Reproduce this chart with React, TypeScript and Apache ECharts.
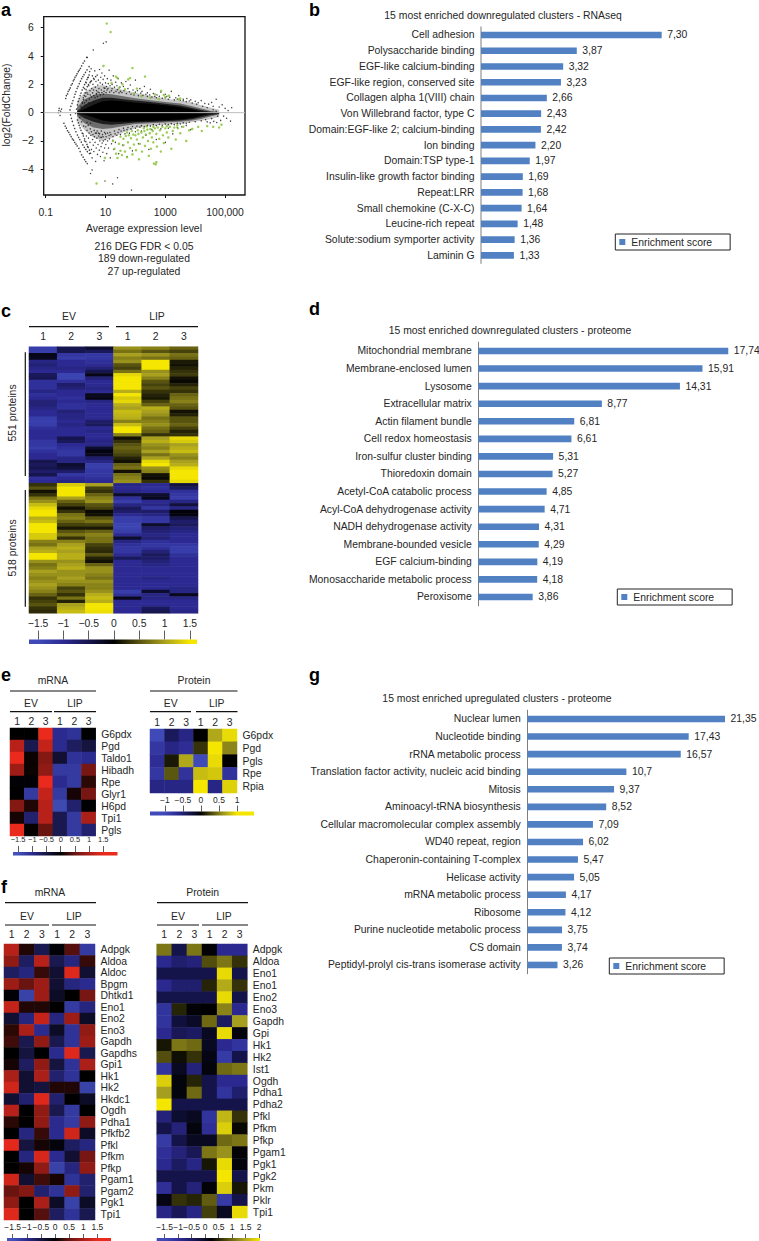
import React, { useEffect, useRef } from "react";
import * as echarts from "echarts";

const FONT = '"Liberation Sans", Arial, sans-serif';
const INK = "#262626";
const BAR = "#5181c2";
const TEXT = 10.4;

// ---------- panel a (x is log10 of the average expression level) ----------
const maTicksX = [-1, 1, 3, 5];
const maTickLabels = ["0.1", "10", "1000", "100,000"];
const maTicksY = [-4, -2, 0, 2, 4, 6];
// lg, coreHi, coreLo, innerHi, innerLo, midHi, midLo, outerHi, outerLo
const maEnvelope = [
  [0.05, 0.05, -0.05, 0.1, -0.1, 0.4, -0.25, 0.8, -0.6],
  [0.3, 0.25, -0.15, 0.55, -0.4, 0.95, -0.75, 1.45, -1.25],
  [0.6, 0.55, -0.35, 0.85, -0.65, 1.25, -1.05, 1.85, -1.75],
  [0.9, 0.8, -0.55, 1.05, -0.8, 1.35, -1.15, 1.95, -2.0],
  [1.2, 0.85, -0.65, 1.05, -0.85, 1.3, -1.1, 1.8, -1.8],
  [1.6, 0.8, -0.65, 0.95, -0.78, 1.15, -0.95, 1.6, -1.4],
  [2.0, 0.7, -0.62, 0.85, -0.7, 1.02, -0.8, 1.4, -1.1],
  [2.5, 0.62, -0.58, 0.75, -0.66, 0.88, -0.75, 1.2, -0.95],
  [3.0, 0.52, -0.54, 0.62, -0.61, 0.75, -0.7, 1.0, -0.85],
  [3.5, 0.38, -0.48, 0.5, -0.56, 0.65, -0.65, 0.85, -0.8],
  [3.9, 0.22, -0.38, 0.32, -0.46, 0.45, -0.55, 0.72, -0.68],
  [4.2, 0.08, -0.22, 0.18, -0.32, 0.3, -0.45, 0.52, -0.58],
  [4.5, 0.0, -0.08, 0.06, -0.18, 0.14, -0.28, 0.36, -0.46],
  [4.8, -0.03, -0.05, 0.0, -0.08, 0.04, -0.14, 0.2, -0.3],
];
const maStreakDots = [
  [-0.33, 1.0], [-0.31, 1.2], [-0.27, 1.32], [-0.25, 1.5], [-0.21, 1.62], [-0.18, 1.75], [-0.15, 1.95], [-0.11, 2.05], [-0.08, 2.25], [-0.05, 2.35], [-0.02, 2.5], [0.02, 2.62], [0.05, 2.75], [0.09, 2.9], [0.12, 3.0], [0.16, 3.13], [0.2, 3.3], [0.25, 3.5], [0.3, 3.65], [0.37, 3.91],
  [-0.19, 0.19], [-0.16, 0.45], [-0.12, 0.65], [-0.09, 0.85], [-0.05, 1.1], [-0.02, 1.3], [0.01, 1.48], [0.05, 1.72], [0.08, 1.85], [0.12, 2.05], [0.16, 2.22], [0.2, 2.4], [0.24, 2.55], [0.28, 2.68], [0.33, 2.85], [0.38, 3.02], [0.45, 3.25],
  [0.0, -0.05], [0.03, 0.25], [0.06, 0.55], [0.09, 0.8], [0.12, 1.0], [0.15, 1.2], [0.18, 1.38], [0.22, 1.6], [0.26, 1.78], [0.3, 1.98], [0.34, 2.15], [0.38, 2.35], [0.41, 2.48], [0.45, 2.66],
  [0.17, 0.0], [0.2, 0.35], [0.23, 0.65], [0.26, 0.92], [0.29, 1.2], [0.32, 1.4], [0.35, 1.62], [0.39, 1.84], [0.43, 1.98], [0.48, 2.12], [0.53, 2.25], [0.6, 2.42], [0.67, 2.54],
  [-0.39, -0.75], [-0.35, -0.95], [-0.31, -1.1], [-0.27, -1.28], [-0.23, -1.4], [-0.19, -1.55], [-0.15, -1.7], [-0.11, -1.85], [-0.07, -1.95], [-0.03, -2.1], [0.01, -2.22], [0.05, -2.35], [0.11, -2.52], [0.15, -2.75], [0.2, -2.98], [0.25, -3.15], [0.3, -3.32], [0.34, -3.46],
  [-0.17, -0.16], [-0.14, -0.4], [-0.11, -0.62], [-0.07, -0.9], [-0.03, -1.12], [0.01, -1.35], [0.06, -1.58], [0.1, -1.75], [0.14, -1.9], [0.19, -2.08], [0.24, -2.28], [0.29, -2.45], [0.34, -2.6], [0.39, -2.76],
  [0.06, -0.52], [0.09, -0.72], [0.12, -0.9], [0.15, -1.08], [0.18, -1.25], [0.22, -1.45], [0.26, -1.65], [0.3, -1.85], [0.34, -2.05], [0.38, -2.25], [0.42, -2.45], [0.46, -2.65], [0.5, -2.87],
];
const maBlack = [
  [-0.55, 0.3], [-0.5, 0.1], [-0.58, 0], [-0.52, -0.2], [-0.47, 0.25], [-0.56, 0.15],
  [0.39, 3.9], [0.59, 4.43], [0.93, 4.9], [1.02, 5.0], [0.5, -4.3], [0.55, -4.05], [0.39, -3.6], [1.24, -5.04], [1.4, -4.6], [1.87, -5.47], [0.98, -4.83],
  [0.3, 1.7], [0.35, 2.1], [0.38, 1.4], [0.42, 2.5], [0.44, 1.9], [0.47, 2.9], [0.48, 1.55], [0.5, 2.2], [0.52, 3.1], [0.54, 1.7], [0.56, 2.6], [0.58, 2.0],
  [0.6, 1.6], [0.62, 2.35], [0.64, 2.95], [0.66, 1.8], [0.68, 2.2], [0.7, 1.55], [0.72, 2.65], [0.74, 1.95], [0.76, 2.3], [0.78, 1.7], [0.8, 3.05], [0.82, 2.1],
  [0.84, 2.5], [0.86, 1.6], [0.88, 2.8], [0.9, 2.0], [0.92, 2.35], [0.95, 1.75], [0.97, 2.6], [1.0, 2.1], [1.03, 1.85], [1.06, 2.4], [1.09, 2.05], [1.12, 3.0],
  [1.15, 1.9], [1.18, 2.3], [1.22, 2.0], [1.26, 2.6], [1.3, 1.8], [1.34, 2.15], [1.38, 1.9], [1.42, 2.4], [1.48, 1.8], [1.53, 2.1], [1.6, 1.85], [1.68, 2.2], [1.75, 1.7], [1.83, 1.95],
  [1.92, 1.6], [2.0, 2.3], [2.07, 1.55], [2.15, 1.7], [2.22, 1.5], [2.3, 1.85], [2.4, 1.4], [2.5, 1.65], [2.6, 1.35], [2.72, 1.25], [2.85, 1.45], [3.0, 1.3], [3.05, 1.15], [3.2, 1.5], [3.35, 1.05], [3.45, 1.2], [3.6, 0.95], [3.72, 1.0],
  [3.85, 0.9], [4.0, 0.8], [4.1, 0.7], [4.2, 0.85], [4.32, 0.65], [4.45, 0.6], [4.55, 0.72], [4.6, 0.45], [4.7, 0.95], [4.8, 0.4], [4.9, 0.55], [5.0, 0.3], [5.1, 0.15], [5.22, 0.35], [4.95, -0.25], [5.05, -0.4], [5.18, -0.6], [4.85, -0.55], [4.72, -0.7], [4.62, -0.62], [4.5, -0.72], [4.4, -0.65],
  [0.25, -1.5], [0.3, -2.0], [0.36, -1.65], [0.4, -2.4], [0.43, -1.8], [0.46, -2.9], [0.48, -2.1], [0.51, -1.6], [0.53, -2.6], [0.55, -3.2], [0.57, -1.9], [0.59, -2.3],
  [0.61, -2.75], [0.63, -1.7], [0.65, -2.1], [0.67, -3.45], [0.69, -2.5], [0.71, -1.8], [0.73, -2.95], [0.75, -2.25], [0.77, -1.65], [0.79, -2.65], [0.81, -2.0], [0.83, -3.1],
  [0.85, -2.4], [0.87, -1.75], [0.89, -2.15], [0.91, -2.8], [0.93, -2.0], [0.95, -3.4], [0.97, -2.5], [0.99, -1.9], [1.01, -2.25], [1.04, -2.9], [1.07, -2.0], [1.1, -2.5],
  [1.13, -1.85], [1.16, -3.2], [1.2, -2.2], [1.24, -1.95], [1.28, -2.6], [1.33, -2.1], [1.38, -1.6], [1.44, -2.9], [1.5, -1.55], [1.57, -2.3], [1.65, -1.5], [1.72, -3.1], [1.8, -1.45], [1.9, -2.7], [2.0, -1.35], [2.1, -2.2], [2.2, -1.3], [2.35, -1.6], [2.45, -2.6], [2.55, -1.2], [2.7, -1.9], [2.85, -1.15], [3.0, -2.1], [3.1, -1.1], [3.25, -1.5], [3.4, -1.05], [3.55, -1.0], [3.7, -0.9], [3.85, -1.2],
  [0.7, 1.35], [0.75, 1.45], [0.95, 1.5], [1.05, 1.6], [1.2, 1.55], [1.35, 1.5], [1.45, 1.4], [1.55, 1.42], [1.7, 1.35], [1.85, 1.3], [1.95, 1.25], [2.1, 1.2], [2.25, 1.22], [2.4, 1.15], [2.55, 1.1], [2.7, 1.05], [2.9, 1.02], [3.1, 0.95], [3.3, 0.9], [3.5, 0.88], [3.7, 0.78], [3.9, 0.68], [4.05, 0.6], [4.25, 0.45], [4.4, 0.35], [4.6, 0.2], [4.7, 0.1],
  [0.7, -1.45], [0.8, -1.5], [0.9, -1.55], [1.0, -1.5], [1.15, -1.4], [1.3, -1.3], [1.45, -1.2], [1.6, -1.1], [1.75, -1.05], [1.9, -0.98], [2.05, -0.95], [2.2, -0.92], [2.4, -0.9], [2.6, -0.85], [2.8, -0.82], [3.0, -0.8], [3.2, -0.78], [3.4, -0.76], [3.6, -0.72], [3.8, -0.68], [4.0, -0.64], [4.2, -0.58], [4.35, -0.5], [4.55, -0.42], [4.75, -0.25],
  [0.34, 1.15], [0.41, 1.3], [0.46, 0.95], [0.49, 1.25], [0.53, 1.1], [0.57, 1.4], [0.61, 1.2], [0.65, 1.05], [0.69, 1.3], [0.73, 1.15], [0.79, 1.4], [0.83, 1.25], [0.88, 1.42], [0.93, 1.3], [0.98, 1.72], [1.02, 1.42], [1.08, 1.7], [1.14, 1.45], [1.22, 1.7], [1.28, 1.42], [1.4, 1.62], [1.5, 1.5], [1.62, 1.55], [1.8, 1.48], [2.0, 1.45], [2.18, 1.38], [2.35, 1.3], [2.48, 1.25], [2.65, 1.15], [2.8, 1.15], [3.0, 1.05], [3.15, 1.08], [3.4, 0.95], [3.6, 0.85], [3.8, 0.82],
  [0.34, -1.0], [0.38, -1.25], [0.42, -0.9], [0.45, -1.45], [0.49, -1.15], [0.53, -1.35], [0.58, -1.55], [0.62, -1.25], [0.66, -1.45], [0.72, -1.3], [0.77, -1.45], [0.82, -1.75], [0.86, -1.3], [0.92, -1.7], [0.97, -1.4], [1.02, -1.7], [1.07, -1.45], [1.12, -1.62], [1.18, -1.55], [1.25, -1.7], [1.32, -1.5], [1.42, -1.4], [1.52, -1.3], [1.62, -1.25], [1.72, -1.2], [1.85, -1.15], [2.0, -1.1], [2.15, -1.02], [2.3, -1.0], [2.5, -0.95], [2.7, -0.92], [2.9, -0.9], [3.1, -0.85], [3.3, -0.85], [3.5, -0.8], [3.7, -0.75],
  [0.22, 0.75], [0.26, 1.05], [0.18, 0.45], [0.14, -0.35], [0.2, -0.65], [0.27, -0.95], [0.3, 0.7], [0.36, 0.85], [0.38, -0.7], [0.44, 0.7], [0.5, -0.75],
];
const maGreen = [
  [1.04, 6.3], [1.17, 5.7], [0.93, 3.3], [1.9, 3.15], [2.32, 2.55], [1.35, 2.55], [1.4, 2.45], [1.76, 2.35], [1.82, 2.45], [1.57, 2.0], [1.2, 2.1], [1.45, 1.75], [2.86, 1.55], [2.65, 1.3], [2.95, 1.25], [3.0, 1.1], [3.45, 0.95], [3.5, 1.0], [2.78, 0.95], [2.2, 1.15], [1.95, 1.35], [3.12, 1.2], [2.5, 1.05], [1.65, 1.65], [2.05, 1.7],
  [0.7, -5.0], [0.98, -3.2], [1.25, -2.0], [1.3, -2.55], [1.35, -2.9], [1.4, -3.2], [1.45, -2.2], [1.5, -2.7], [1.5, -1.7], [1.55, -3.0], [1.6, -2.3], [1.6, -1.85], [1.65, -2.75], [1.68, -1.65], [1.72, -3.15], [1.75, -2.1], [1.78, -1.6], [1.82, -2.5], [1.85, -1.8], [1.9, -2.95], [1.93, -1.55], [1.95, -2.25], [2.0, -1.6], [2.02, -2.65], [2.05, -1.9],
  [2.1, -1.5], [2.12, -3.3], [2.15, -2.2], [2.2, -1.4], [2.22, -2.75], [2.25, -1.75], [2.3, -1.3], [2.32, -2.35], [2.35, -1.55], [2.4, -1.2], [2.42, -2.0], [2.45, -3.05], [2.48, -1.45], [2.5, -1.15], [2.52, -2.55], [2.55, -1.75], [2.58, -1.3], [2.6, -2.1], [2.62, -3.6], [2.65, -1.1], [2.68, -3.65], [2.7, -3.5], [2.7, -1.5], [2.72, -2.4], [2.75, -1.05], [2.8, -1.85], [2.82, -1.25], [2.85, -2.75], [2.9, -1.0], [2.92, -1.6], [2.95, -2.15], [3.0, -1.1], [3.05, -1.4], [3.1, -1.75], [3.15, -1.0], [3.2, -2.55], [3.25, -1.3], [3.3, -1.05], [3.35, -1.9], [3.42, -1.1], [3.5, -1.45], [3.6, -1.0], [3.7, -2.0], [3.8, -1.25], [3.9, -1.15], [4.1, -1.0], [4.22, -1.3], [4.4, -0.95], [4.6, -1.0], [4.8, -1.05], [4.88, -0.85], [1.72, -1.4], [1.88, -1.3], [2.08, -1.25], [2.28, -1.1], [2.38, -0.98], [2.6, -1.0], [3.05, -0.95], [3.4, -0.9],
];

// ---------- bar panels ----------
const rnaLabels = ["Cell adhesion", "Polysaccharide binding", "EGF-like calcium-binding", "EGF-like region, conserved site", "Collagen alpha 1(VIII) chain", "Von Willebrand factor, type C", "Domain:EGF-like 2; calcium-binding", "Ion binding", "Domain:TSP type-1", "Insulin-like growth factor binding", "Repeat:LRR", "Small chemokine (C-X-C)", "Leucine-rich repeat", "Solute:sodium symporter activity", "Laminin G"];
const rnaValues = [7.3, 3.87, 3.32, 3.23, 2.66, 2.43, 2.42, 2.2, 1.97, 1.69, 1.68, 1.64, 1.48, 1.36, 1.33];
const rnaText = ["7,30", "3,87", "3,32", "3,23", "2,66", "2,43", "2,42", "2,20", "1,97", "1,69", "1,68", "1,64", "1,48", "1,36", "1,33"];
const downLabels = ["Mitochondrial membrane", "Membrane-enclosed lumen", "Lysosome", "Extracellular matrix", "Actin filament bundle", "Cell redox homeostasis", "Iron-sulfur cluster binding", "Thioredoxin domain", "Acetyl-CoA catabolic process", "Acyl-CoA dehydrogenase activity", "NADH dehydrogenase activity", "Membrane-bounded vesicle", "EGF calcium-binding", "Monosaccharide metabolic process", "Peroxisome"];
const downValues = [17.74, 15.91, 14.31, 8.77, 6.81, 6.61, 5.31, 5.27, 4.85, 4.71, 4.31, 4.29, 4.19, 4.18, 3.86];
const downText = ["17,74", "15,91", "14,31", "8,77", "6,81", "6,61", "5,31", "5,27", "4,85", "4,71", "4,31", "4,29", "4,19", "4,18", "3,86"];
const upLabels = ["Nuclear lumen", "Nucleotide binding", "rRNA metabolic process", "Translation factor activity, nucleic acid binding", "Mitosis", "Aminoacyl-tRNA biosynthesis", "Cellular macromolecular complex assembly", "WD40 repeat, region", "Chaperonin-containing T-complex", "Helicase activity", "mRNA metabolic process", "Ribosome", "Purine nucleotide metabolic process", "CS domain", "Peptidyl-prolyl cis-trans isomerase activity"];
const upValues = [21.35, 17.43, 16.57, 10.7, 9.37, 8.52, 7.09, 6.02, 5.47, 5.05, 4.17, 4.12, 3.75, 3.74, 3.26];
const upText = ["21,35", "17,43", "16,57", "10,7", "9,37", "8,52", "7,09", "6,02", "5,47", "5,05", "4,17", "4,12", "3,75", "3,74", "3,26"];

// ---------- panel c (columns, top to bottom) ----------
const cEv1 = [-1.3, -1.3, -0.15, -0.2, -0.9, -0.8, -0.9, -1, -0.6, -0.55, -1.1, -1.1, -1.1, -0.9, -1.1, -1, -0.8, -0.8, -0.9, -1, -1, -1.3, -1.35, -1.3, -1.1, -1, -1, -1, -1.2, -1.2, -1.3, -1.1, -1, -1, -0.5, -0.6, -0.5, -0.7, -0.5, -1.1, -1, 0.3, 0.5, 0.1, 0.3, 0.7, 0.9, 1.2, 1.4, 1.5, 1.5, 1.1, 1.2, 1.5, 1.5, 1.5, 1.3, 1.3, 0.8, 0.7, 1, 1.1, 1.5, 1.5, 0.9, 0.7, 0.8, 1, 0.9, 0.8, 0.9, 1, 0.9, 0.8, 0.6, 0.3, 0.4, 0.5, 0.3, 0.25];
const cEv2 = [-0.5, -0.5, -1.2, -1.3, -1, -1, -0.9, -1, -1.4, -1.4, -1.1, -0.7, -0.8, -1, -1, -1.1, -1, -1.1, -1.1, -0.8, -0.9, -0.9, -1, -0.9, -1, -1, -1, -0.5, -0.6, -1, -1.1, -1.2, -1.2, -0.9, -0.9, -0.3, -0.4, -0.7, -1.2, -1, -0.9, 1.3, 1.55, 1.55, 1.5, 1, 0.6, 0.4, 0.1, 0.3, 0.7, 0.8, 0.6, 0.4, 0.15, 0.5, 0.7, 0.3, 0.8, 1, 1.1, 1, 1.1, 1.1, 0.9, 1, 1.1, 0.9, 0.9, 1, 0.9, 0.8, 0.4, 0.5, 0.3, 0.7, 0.2, 1, 1.1, 1.2];
const cEv3 = [-0.3, -0.6, -1.2, -1.2, -1.1, -1, -0.8, -0.5, -0.15, -0.8, -1, -1, -0.9, -1, -0.2, -0.15, -0.9, -1, -1, -1, -1, -1, -0.7, -0.6, -1, -0.9, -1, -1, -0.9, -0.9, -0.3, -0.1, -0.2, -0.7, -0.9, -1.3, -1.3, -1.2, -1.2, -1.1, -1, 1, 0.4, 0.3, 0.6, 0.8, 0.9, 0.5, 0.4, 0.05, 0.1, 0.5, 0.7, 0.4, 0.15, 0.6, 0.8, 0.7, 0.7, 0.4, 0.3, 0.25, 0.5, 0.2, 0.1, 0.6, 0.9, 0.9, 0.8, 0.7, 0.9, 0.8, 0.8, 0.9, 1.1, 1.2, 1.1, 1.5, 1.55, 1.45];
const cLip1 = [0.9, 0.7, 1, 0.8, 0.9, 0.5, 0.4, 0.7, 1.4, 1.5, 1.55, 1.55, 1.5, 1.1, 1.5, 1.3, 1.4, 1.1, 1, 1.2, 1.15, 1.1, 0.8, 1.2, 1.5, 1.5, 0.8, 0.1, 0.3, 0.5, 0.6, 0.5, 0.4, 0.2, 0.1, 0.6, 0.7, 0.1, 0.7, 0.8, 0.9, -0.9, -1, -0.9, -0.3, -1.1, -1.3, -0.9, -0.6, -0.7, -1, -1.3, -1.3, -1.4, -1.4, -1.3, -1, -0.3, -0.9, -1.1, -1.2, -1.2, -1, -0.6, -1, -1, -1, -1, -1, -1, -1, -1, -1, -1.3, -1.1, -0.2, -1, -1, -1, -1];
const cLip2 = [0.8, 0.5, 0.9, 0.7, 1.6, 1.6, 1.6, 0.9, 1, 0.8, 0.5, 0.4, 0.5, 0.3, 0.2, 0.15, 0.4, 0.6, 1.1, 1, 0.9, 0.7, 0.8, 0.9, 0.7, 0.6, 0.3, 1, 1.1, 0.9, 0.8, 1, 0.7, 1, 1.4, 1.5, 0.9, 0.8, 0.1, 0.05, 0.3, -1, -1.1, -1, -0.3, -0.2, -1, -0.9, -1.2, -0.7, -0.9, -1.2, -1.2, -0.3, -0.7, -0.8, -0.9, -0.8, -1.1, -1.2, -1.1, -0.8, -0.6, -0.7, -0.8, -0.9, -1, -1, -1, -0.9, -1, -1, -1, -0.3, -0.9, -0.9, -1, -1, -0.6, -0.5];
const cLip3 = [0.6, 0.4, 0.7, 0.6, 0.15, 0.1, 0.2, 0.3, 0.35, 0.1, 0.05, 0.2, 0.4, 0.3, 0.6, 0.7, 0.8, 0.6, 0.5, 0.1, 0.2, 0.5, 0.5, 0.6, 0.4, 0.2, 0.3, 1.4, 1.3, 1, 1.1, 1.2, 0.9, 0.8, 1, 1.1, 1.4, 1.5, 1.5, 1.5, 1.4, -0.4, -0.6, -1.1, -1.2, -1.3, -0.9, -0.4, -0.9, -0.05, -0.1, -0.5, -0.7, -0.6, -0.8, -0.9, -1, -1, -1, -1.2, -1.3, -1.3, -1.1, -1, -1, -1, -1, -1, -1, -1, -1, -1, -0.9, -0.9, -0.2, -0.9, -1, -1, -1, -0.9];

// ---------- panel e ----------
const eMrnaGenes = ["G6pdx", "Pgd", "Taldo1", "Hibadh", "Rpe", "Glyr1", "H6pd", "Tpi1", "Pgls"];
const eMrnaRows = [
  [0, 0, 1.5, -1, -1.1, 0], [1.1, -0.6, 1.2, -1, -0.7, -0.5], [1.5, 0.05, 0.7, -0.4, -1.1, -1], [0.9, 0.05, 0.8, -1.2, -1.2, 0.6], [-0.05, -0.05, 1.5, -1, -1.2, 0.2],
  [0, -1.2, 1.2, -1.2, 0.1, 0.6], [0.7, 0.15, 1.1, -1.4, -0.8, 0], [0.1, -0.8, 1.1, -0.6, -1.2, 1], [1.5, 0.03, 0.5, -0.6, -1.2, -0.8],
];
const eProtGenes = ["G6pdx", "Pgd", "Pgls", "Rpe", "Rpia"];
const eProtRows = [
  [-1, -0.4, -0.6, 0, 0.7, 0.95], [-0.8, -0.6, -0.7, 0.2, 1, 0.55], [-0.7, 0.1, 0.7, -1, 0.95, 0], [-0.8, 0.35, -0.75, 0.8, 0.85, -0.75], [-0.6, -0.6, -0.6, 1, -0.6, 0.9],
];

// ---------- panel f ----------
const fMrnaGenes = ["Adpgk", "Aldoa", "Aldoc", "Bpgm", "Dhtkd1", "Eno1", "Eno2", "Eno3", "Gapdh", "Gapdhs", "Gpi1", "Hk1", "Hk2", "Hkdc1", "Ogdh", "Pdha1", "Pfkfb2", "Pfkl", "Pfkm", "Pfkp", "Pgam1", "Pgam2", "Pgk1", "Tpi1"];
const fMrnaRows = [
  [1.1, 0.15, -0.6, -0.05, 0.4, -1.2], [0.8, -0.7, 1.1, -0.6, -0.9, 0.25], [-0.7, -0.9, 0.25, -0.4, 1.4, -0.4], [0.9, 0.5, 0.9, -0.4, -0.9, -1], [-0.05, -1.3, 0.9, -0.3, 0, 0.6], [1.2, 0.15, 0.15, 0, -1.2, -0.9],
  [-0.4, -0.9, 1.2, -0.9, 0.9, -0.3], [0.2, 1, -1, -0.3, -1.1, 0.8], [0.3, -0.6, 0.8, -0.6, -1.1, 0.9], [0, -0.5, 0, -1, 1.4, -0.6], [0.1, -0.7, 0.8, -0.5, -1.1, 1], [1, -0.4, 1, -0.8, -1.1, 0],
  [1.3, -0.4, -0.5, 0.15, 0.15, -1.3], [-0.4, -0.8, 1.4, -0.8, 0, -0.3], [1.1, 0, 0.8, -0.6, -1.2, 0], [0.2, 0, 0.8, -1, -1.2, 0.8], [0, -0.9, 0.25, -1, 1.3, -0.3], [1.45, -0.5, 0.1, -0.1, -0.7, -0.9],
  [0, -0.9, 1.35, -1, -0.4, 0.6], [0, 0.1, 0.8, -1.3, -0.9, 0.8], [1.3, -0.4, 0.3, 0.1, -1.1, -0.8], [0.5, 0.7, -0.8, -1.1, 0.8, -0.8], [0.8, 0, 1, -0.3, -1.3, -0.3], [1.4, 0, 0.4, -0.7, -1.1, -0.6],
];
const fProtGenes = ["Adpgk", "Aldoa", "Eno1", "Eno1", "Eno2", "Eno3", "Gapdh", "Gpi", "Hk1", "Hk2", "Ist1", "Ogdh", "Pdha1", "Pdha2", "Pfkl", "Pfkm", "Pfkp", "Pgam1", "Pgk1", "Pgk2", "Pkm", "Pklr", "Tpi1"];
const fProtRows = [
  [1.1, -0.3, 1.1, 0.2, -0.9, -0.9], [-0.9, -0.6, -0.7, 0.8, 1.1, 0.6], [-0.3, -0.3, -0.3, -0.3, 1.9, -0.3], [-0.9, -0.6, -0.6, 0.5, 1.5, 0.6], [-0.3, -0.3, -0.3, -0.3, 1.9, -0.3], [-1.1, 0.5, 0.2, 0.25, 1.2, -0.9],
  [-1.1, -0.2, -0.05, 1, -0.5, 1.4], [-0.9, -0.4, -0.5, 0, 1.9, 0.15], [0.4, 1.1, 1, 0, -0.9, -1.1], [0.8, 0.35, 0.6, 0.1, -1.2, -0.3], [-1.1, 0, -0.7, 0.15, 1, 1.1], [1.8, 0.15, 0.5, -0.3, -0.9, -0.9],
  [1.4, 0.15, 1, -0.3, -1.1, -0.6], [2, -0.3, -0.3, -0.3, -0.3, -0.3], [-0.7, -0.1, 0, -1.1, 1.6, 0.6], [-0.3, -0.7, 0.15, -1, 1.8, 0.3], [-1.2, -0.3, 0, 0, 1, 1.1], [-1, -0.7, -0.4, 1.1, 1.3, 0.2],
  [-0.9, -0.5, -0.8, 0.4, 1.9, 0.15], [-0.3, -0.3, -0.3, -0.3, 2, -0.3], [-1, -0.3, -0.7, 0.2, 1.8, 0.4], [0.1, 0.6, 0.5, 0.9, -1.2, -0.3], [-0.8, -0.4, -0.8, 0.7, 0, 1.9],
];

const columnLabels = ["1", "2", "3", "1", "2", "3"];
const scale15 = [-1.5, -1, -0.5, 0, 0.5, 1, 1.5];
const scale1 = [-1, -0.5, 0, 0.5, 1];
const scale2 = [-1.5, -1, -0.5, 0, 0.5, 1, 1.5, 2];
const blueYellow = ["#3f4ab8", "#2c2a92", "#16154e", "#000000", "#58530f", "#a8a01e", "#f5e600"];
const blueRed = ["#4152b8", "#2b2a8e", "#15143f", "#000000", "#6a1410", "#aa1f18", "#ea2a1c"];

const minus = (v: number | string) => String(v).replace("-", "\u2212");

function buildOption() {
  const grid: any[] = [];
  const xAxis: any[] = [];
  const yAxis: any[] = [];
  const series: any[] = [];
  const visualMap: any[] = [];
  const legend: any[] = [];
  const elements: any[] = [];

  const addGrid = (l: number, t: number, w: number, h: number, x: any, y: any, extra: any = {}) => {
    grid.push({ left: l, top: t, width: w, height: h, ...extra });
    xAxis.push({ gridIndex: grid.length - 1, ...x });
    yAxis.push({ gridIndex: grid.length - 1, ...y });
    return grid.length - 1;
  };
  const txt = (x: number, y: number, text: string, size = TEXT, align = "center", extra: any = {}) =>
    elements.push({
      type: "text", x, y, silent: true, ...extra,
      style: { text, fill: extra.fill || INK, font: `${extra.weight || "normal"} ${size}px ${FONT}`, align, verticalAlign: "middle", textAlign: align, textVerticalAlign: "middle" },
    });
  const rule = (x1: number, y1: number, x2: number, y2: number, width = 1.2) =>
    elements.push({ type: "line", silent: true, shape: { x1, y1, x2, y2 }, style: { stroke: "#111", lineWidth: width } });

  // ---------- a ----------
  const ga = addGrid(43.7, 16.7, 201.3, 178.3,
    {
      type: "value", position: "bottom", min: -1.067, max: 5.665, splitLine: { show: false },
      axisLine: { show: false, onZero: false },
      axisTick: { length: 3, lineStyle: { color: "#111" }, customValues: maTicksX },
      axisLabel: { customValues: maTicksX, margin: 12, fontFamily: FONT, fontSize: TEXT, color: INK, formatter: (v: number) => maTickLabels[maTicksX.indexOf(v)] ?? "" },
    },
    {
      type: "value", position: "left", min: -5.82, max: 6.78, splitLine: { show: false },
      axisLine: { show: false, onZero: false },
      axisTick: { length: 3, lineStyle: { color: "#111" }, customValues: maTicksY },
      axisLabel: { customValues: maTicksY, margin: 10, fontFamily: FONT, fontSize: TEXT, color: INK, formatter: (v: number) => minus(v) },
    },
    { show: true, borderColor: "#111", borderWidth: 1.3, backgroundColor: "#fff" });
  const band = (hi: number, lo: number, color: string, name: string) => ({
    type: "custom", name, xAxisIndex: ga, yAxisIndex: ga, silent: true, clip: true, data: [[maEnvelope[0][0], 0]],
    encode: { x: 0, y: 1 },
    renderItem: (_: any, api: any) => {
      const top = maEnvelope.map((r) => api.coord([r[0], r[hi]]));
      const bottom = maEnvelope.map((r) => api.coord([r[0], r[lo]])).reverse();
      return { type: "polygon", shape: { points: [...top, ...bottom] }, style: { fill: color } };
    },
  });
  series.push({
    type: "line", name: "baseline", xAxisIndex: ga, yAxisIndex: ga, silent: true, symbol: "none",
    data: [[-1.067, 0], [5.665, 0]], lineStyle: { color: "#bdbdbd", width: 1 },
  });
  series.push(band(7, 8, "rgba(0,0,0,0.22)", "outer cloud"));
  series.push(band(5, 6, "rgba(0,0,0,0.45)", "middle cloud"));
  series.push(band(3, 4, "rgba(0,0,0,0.72)", "inner cloud"));
  series.push(band(1, 2, "#000", "core cloud"));
  series.push({ type: "scatter", name: "low-count streaks", xAxisIndex: ga, yAxisIndex: ga, silent: true, symbolSize: 1.5, data: maStreakDots, itemStyle: { color: "#111" } });
  series.push({ type: "scatter", name: "all genes", xAxisIndex: ga, yAxisIndex: ga, silent: true, symbolSize: 1.4, data: maBlack, itemStyle: { color: "#111" } });
  series.push({ type: "scatter", name: "DEG", xAxisIndex: ga, yAxisIndex: ga, silent: true, symbolSize: 2.5, data: maGreen, itemStyle: { color: "#83c22f" } });
  txt(6, 105, "log2(FoldChange)", TEXT, "center", { rotation: Math.PI / 2 });
  txt(144, 228, "Average expression level");
  txt(144, 246, "216 DEG FDR < 0.05");
  txt(144, 258.7, "189 down-regulated");
  txt(144, 271, "27 up-regulated");

  // ---------- bars ----------
  const bars = (l: number, t: number, pxPerUnit: number, rowGap: number, labels: string[], values: number[], text: string[], axisW: number, axisColor: string) => {
    const w = 759 - l - 2;
    const g = addGrid(l, t, w, rowGap * 15,
      { type: "value", min: 0, max: w / pxPerUnit, show: false, splitLine: { show: false } },
      {
        type: "category", inverse: true, data: labels,
        axisLine: { show: true, lineStyle: { color: axisColor, width: axisW } }, axisTick: { show: false },
        axisLabel: { interval: 0, margin: 6.5, fontFamily: FONT, fontSize: TEXT, color: INK },
      });
    series.push({
      type: "bar", name: "Enrichment score", xAxisIndex: g, yAxisIndex: g, barWidth: 6.6, data: values,
      itemStyle: { color: BAR },
      label: { show: true, position: "right", distance: 5.5, fontFamily: FONT, fontSize: TEXT, color: INK, formatter: (p: any) => text[p.dataIndex] },
    });
  };
  bars(481, 27.1, 24.75, 15.74, rnaLabels, rnaValues, rnaText, 1.5, "#a8a8a8");
  bars(478.3, 342.2, 14.09, 17.57, downLabels, downValues, downText, 1, "#7f7f7f");
  bars(527.3, 710.2, 9.26, 17.57, upLabels, upValues, upText, 1, "#7f7f7f");
  const leg = (left: number, top: number) => legend.push({
    left, top, orient: "horizontal", data: ["Enrichment score"], selectedMode: false, icon: "rect", itemWidth: 6, itemHeight: 6, itemGap: 0,
    padding: [3, 18, 3, 4], borderColor: "#222", borderWidth: 1, backgroundColor: "#fff",
    textStyle: { fontFamily: FONT, fontSize: TEXT, color: INK, padding: [0, 0, 0, 1] },
  });
  leg(615.3, 234);
  leg(617.3, 589);
  leg(609.3, 958);
  txt(503, 15, "15 most enriched downregulated clusters - RNAseq");
  txt(510, 330, "15 most enriched downregulated clusters - proteome");
  txt(497, 698, "15 most enriched upregulated clusters - proteome");

  // ---------- heatmaps ----------
  const heatmap = (name: string, l: number, t: number, w: number, h: number, rows: number[][], rowLabels: string[] | null, colors: string[], lo: number, hi: number, labelMargin: number) => {
    const g = addGrid(l, t, w, h,
      {
        type: "category", position: "top", data: columnLabels, axisLine: { show: false }, axisTick: { show: false }, splitLine: { show: false },
        axisLabel: { interval: 0, margin: labelMargin, fontFamily: FONT, fontSize: TEXT, color: INK },
      },
      {
        type: "category", inverse: true, position: "right", data: rowLabels || rows.map((_, i) => String(i)), axisLine: { show: false }, axisTick: { show: false }, splitLine: { show: false },
        axisLabel: { show: !!rowLabels, interval: 0, margin: 5.5, fontFamily: FONT, fontSize: TEXT, color: INK },
      });
    const data: number[][] = [];
    rows.forEach((r, ri) => r.forEach((v, ci) => data.push([ci, ri, v])));
    series.push({ type: "heatmap", name, xAxisIndex: g, yAxisIndex: g, silent: true, data, progressive: 0, itemStyle: { borderWidth: 0 } });
    visualMap.push({ type: "continuous", show: false, seriesIndex: series.length - 1, dimension: 2, min: lo, max: hi, inRange: { color: colors } });
  };
  const cRows = cEv1.map((_, i) => [cEv1[i], cEv2[i], cEv3[i], cLip1[i], cLip2[i], cLip3[i]]);
  heatmap("c", 29, 346.7, 169, 266.6, cRows, null, blueYellow, -1.5, 1.5, 5);
  heatmap("e mRNA", 10, 728, 85.7, 108, eMrnaRows, eMrnaGenes, blueRed, -1.5, 1.5, 2);
  heatmap("e Protein", 150, 729, 87, 64, eProtRows, eProtGenes, blueYellow, -1, 1, 2);
  heatmap("f mRNA", 4, 944, 91, 276, fMrnaRows, fMrnaGenes, blueRed, -1.5, 1.5, 5);
  heatmap("f Protein", 156.7, 944, 90.6, 274, fProtRows, fProtGenes, blueYellow, -1.5, 2, 5);

  // ---------- colour bars ----------
  const colorBar = (name: string, l: number, t: number, w: number, h: number, vmin: number, vmax: number, ticks: number[], colors: string[], cmin: number, cmax: number, tickLen: number, size: number, margin: number) => {
    const g = addGrid(l, t, w, h,
      {
        type: "value", position: "top", min: vmin, max: vmax, splitLine: { show: false }, axisLine: { show: false, onZero: false },
        axisTick: { length: tickLen, lineStyle: { color: "#333", width: 0.8 }, customValues: ticks },
        axisLabel: { customValues: ticks, margin, fontFamily: FONT, fontSize: size, color: INK, formatter: (v: number) => minus(v) },
      },
      { type: "value", min: 0, max: 1, show: false, splitLine: { show: false }, axisLine: { onZero: false } });
    const stops = colors.map((color, i) => {
      const v = cmin + ((cmax - cmin) * i) / (colors.length - 1);
      return { offset: Math.max(0, Math.min(1, (v - vmin) / (vmax - vmin))), color };
    });
    series.push({
      type: "custom", name, xAxisIndex: g, yAxisIndex: g, silent: true, clip: false, data: [[vmin, 0, vmax, 1]], encode: { x: [0, 2], y: [1, 3] },
      renderItem: (_: any, api: any) => {
        const a = api.coord([api.value(0), api.value(3)]);
        const b = api.coord([api.value(2), api.value(1)]);
        return {
          type: "rect", shape: { x: a[0], y: a[1], width: b[0] - a[0], height: b[1] - a[1] },
          style: { fill: new echarts.graphic.LinearGradient(0, 0, 1, 0, stops) },
        };
      },
    });
  };
  colorBar("c scale", 29, 639.5, 168, 4.5, -1.68, 1.64, scale15, blueYellow, -1.5, 1.5, 9, TEXT, 11);
  colorBar("e mRNA scale", 13, 852, 104.5, 3.5, -1.68, 2, scale15, blueRed, -1.5, 1.5, 6, 7.5, 8.5);
  colorBar("e Protein scale", 150, 811.5, 104, 4, -1.41, 1.47, scale1, blueYellow, -1, 1, 6, 8.5, 7.5);
  colorBar("f mRNA scale", 7, 1238, 104, 3, -1.7, 1.98, scale15, blueRed, -1.5, 1.5, 4, 8.5, 7);
  colorBar("f Protein scale", 156.7, 1238, 103.3, 3, -1.79, 2.03, scale2, blueYellow, -1.5, 2, 4, 8.5, 7);

  // ---------- headers and side marks ----------
  txt(69, 316, "EV");
  txt(157, 316, "LIP");
  rule(29, 326.7, 109, 326.7);
  rule(116, 326.7, 198, 326.7);
  rule(25.3, 352.3, 25.3, 476);
  rule(25.3, 490, 25.3, 606.7);
  txt(12.7, 413, "551 proteins", TEXT, "center", { rotation: Math.PI / 2 });
  txt(12.7, 548, "518 proteins", TEXT, "center", { rotation: Math.PI / 2 });

  txt(53, 680.7, "mRNA");
  rule(10, 691, 96, 691);
  txt(31, 703, "EV");
  txt(75, 703, "LIP");
  rule(10, 711.7, 52, 711.7);
  rule(54, 711.7, 96, 711.7);
  txt(194, 680.7, "Protein");
  rule(150, 691, 237.5, 691);
  txt(170.7, 703, "EV");
  txt(216.7, 703, "LIP");
  rule(150, 711.7, 191, 711.7);
  rule(196, 711.7, 237.5, 711.7);

  txt(50, 892.7, "mRNA");
  rule(5, 902.7, 96, 902.7);
  txt(27, 916.7, "EV");
  txt(74, 916.7, "LIP");
  rule(5, 925, 49, 925);
  rule(52, 925, 96, 925);
  txt(202.7, 892.7, "Protein");
  rule(157, 902.7, 248, 902.7);
  txt(178, 916.7, "EV");
  txt(224, 916.7, "LIP");
  rule(157, 925, 199, 925);
  rule(202, 925, 248, 925);

  const letters: [string, number, number][] = [["a", 1, 9.5], ["b", 309, 9.5], ["c", 1, 311], ["d", 309, 309], ["e", 1, 675], ["f", 1, 887], ["g", 309, 675]];
  letters.forEach(([s, x, y]) => txt(x, y, s, 18, "left", { weight: "bold", fill: "#000" }));

  return { animation: false, backgroundColor: "#fff", grid, xAxis, yAxis, series, visualMap, legend, graphic: { elements } };
}

export default function App() {
  const ref = useRef<HTMLDivElement>(null);
  useEffect(() => {
    const chart = echarts.init(ref.current!, undefined, { renderer: "svg" });
    chart.setOption(buildOption() as any);
    return () => chart.dispose();
  }, []);
  return <div ref={ref} style={{ position: "absolute", left: 0, top: 0, width: 759, height: 1241, background: "#fff" }} />;
}
